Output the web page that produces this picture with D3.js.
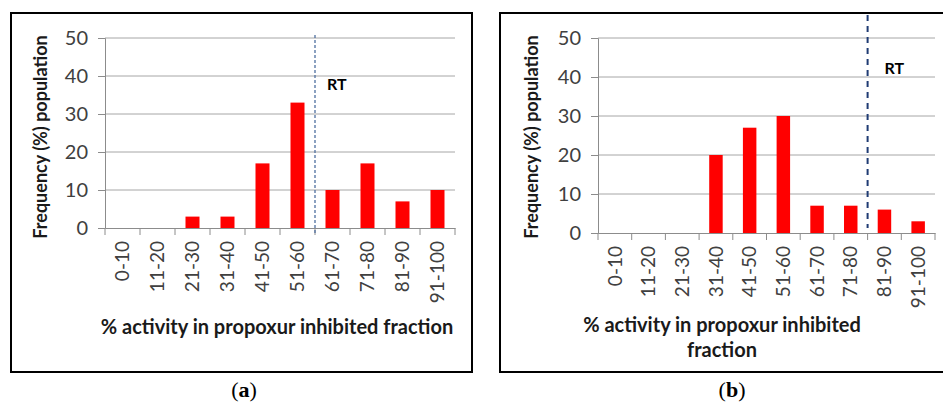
<!DOCTYPE html>
<html>
<head>
<meta charset="utf-8">
<script src="https://cdn.jsdelivr.net/npm/d3@7"></script>
<style>
  body { margin: 0; background: #fff; }
  svg { display: block; }
  .tick text { font-family: Lato, "Open Sans", sans-serif; fill: #404040; }
</style>
</head>
<body>
<svg id="chart" width="943" height="403"></svg>
<script>
// categories (% activity bins) and frequencies
const categories = ["0-10", "11-20", "21-30", "31-40", "41-50", "51-60", "61-70", "71-80", "81-90", "91-100"];
const freqA = [0, 0, 3, 3, 17, 33, 10, 17, 7, 10];
const freqB = [0, 0, 0, 20, 27, 30, 7, 7, 6, 3];
const yTicks = [0, 10, 20, 30, 40, 50];
// RT line sits on the left edge of this bin
const rtA = "61-70";
const rtB = "81-90";

const svg = d3.select("#chart");

function drawPanel(p) {
    // frame
    svg.append("rect")
        .attr("x", p.frame[0]).attr("y", p.frame[1])
        .attr("width", p.frame[2]).attr("height", p.frame[3])
        .attr("fill", "none").attr("stroke", "#000").attr("stroke-width", 2);

    let x = d3.scaleBand().domain(categories).range([p.left, p.right]).paddingInner(0.6).paddingOuter(0.3);
    let xb = d3.scaleBand().domain(categories).range([p.left, p.right]);
    let y = d3.scaleLinear().domain([0, 50]).range([p.bottom, p.top]);

    let g = svg.append("g");

    // gridlines
    g.selectAll("line.grid")
        .data(yTicks.filter(d => d > 0))
        .join("line")
        .attr("class", "grid")
        .attr("x1", p.left).attr("x2", p.right)
        .attr("y1", d => y(d)).attr("y2", d => y(d))
        .attr("stroke", "#a6a6a6").attr("stroke-width", 1);

    // y axis
    let yAxis = g.append("g")
        .attr("transform", `translate(${p.left},0)`)
        .call(d3.axisLeft(y).tickValues(yTicks).tickSize(7).tickPadding(10));
    yAxis.select(".domain").attr("stroke", "#8c8c8c");
    yAxis.selectAll(".tick line").attr("stroke", "#8c8c8c");
    yAxis.selectAll(".tick text").attr("font-size", 20);

    // bars
    g.selectAll("rect.bar")
        .data(p.values)
        .join("rect")
        .attr("class", "bar")
        .attr("x", (d, i) => x(categories[i]))
        .attr("width", x.bandwidth())
        .attr("y", d => y(d))
        .attr("height", d => y(0) - y(d))
        .attr("fill", "#ff0000");

    // x axis (ticks between categories)
    let xAxis = g.append("g")
        .attr("transform", `translate(0,${p.bottom})`)
        .call(d3.axisBottom(xb).tickSize(0).tickPadding(0));
    xAxis.select(".domain").attr("stroke", "#8c8c8c").attr("stroke-width", 1.2);
    xAxis.selectAll(".tick text")
        .attr("font-size", 19)
        .attr("transform", "rotate(-90)")
        .attr("text-anchor", "end")
        .attr("dy", "0.35em")
        .attr("x", -13)
        .attr("y", 0);
    g.selectAll("line.xtick")
        .data(categories.concat(["end"]))
        .join("line")
        .attr("class", "xtick")
        .attr("x1", (d, i) => i < categories.length ? xb(d) : p.right)
        .attr("x2", (d, i) => i < categories.length ? xb(d) : p.right)
        .attr("y1", p.bottom).attr("y2", p.bottom + 7)
        .attr("stroke", "#8c8c8c");

    // RT line
    g.append("line")
        .attr("x1", xb(p.rt)).attr("x2", xb(p.rt))
        .attr("y1", p.rtTop).attr("y2", p.rtBottom)
        .attr("stroke", p.rtColor).attr("stroke-width", p.rtWidth)
        .attr("stroke-dasharray", p.rtDash);
    g.append("text")
        .attr("x", xb(p.rt) + p.rtDx).attr("y", p.rtY)
        .attr("font-family", "Lato, sans-serif").attr("font-weight", "bold")
        .attr("font-size", 16).attr("fill", "#000")
        .text("RT");

    // axis titles
    g.append("text")
        .attr("transform", `translate(${p.yTitleX},${p.yTitleY}) rotate(-90)`)
        .attr("text-anchor", "middle")
        .attr("font-family", "Lato, sans-serif").attr("font-weight", "bold")
        .attr("font-size", 18).attr("fill", "#1a1a1a")
        .text("Frequency (%) population");

    let xt = g.append("text")
        .attr("text-anchor", "middle")
        .attr("font-family", "Lato, sans-serif").attr("font-weight", "bold")
        .attr("font-size", 20).attr("fill", "#1a1a1a");
    p.xTitle.forEach((line, i) => {
        xt.append("tspan")
            .attr("x", p.xTitleX)
            .attr("y", p.xTitleY + i * 25)
            .text(line);
    });

    // panel label
    let lab = svg.append("text")
        .attr("x", p.labelX).attr("y", 397)
        .attr("text-anchor", "middle")
        .attr("font-family", "'Liberation Serif', 'DejaVu Serif', serif")
        .attr("font-size", 22).attr("fill", "#000");
    lab.append("tspan").text("(");
    lab.append("tspan").attr("font-weight", "bold").text(p.label);
    lab.append("tspan").text(")");
}

drawPanel({
    frame: [11, 13, 461, 359],
    left: 105, right: 455, top: 38, bottom: 228,
    values: freqA,
    rt: rtA, rtTop: 35, rtBottom: 233, rtColor: "#4f6f9f", rtWidth: 1.3, rtDash: "3,2",
    rtDx: 12, rtY: 90,
    yTitleX: 47, yTitleY: 137,
    xTitle: ["% activity in propoxur inhibited fraction"], xTitleX: 277, xTitleY: 334,
    label: "a", labelX: 244
});

drawPanel({
    frame: [500, 13, 450, 359],
    left: 598, right: 935, top: 38, bottom: 233,
    values: freqB,
    rt: rtB, rtTop: 15, rtBottom: 228, rtColor: "#1f3b73", rtWidth: 2, rtDash: "6,5",
    rtDx: 17, rtY: 74,
    yTitleX: 538, yTitleY: 137,
    xTitle: ["% activity in propoxur inhibited", "fraction"], xTitleX: 722, xTitleY: 332,
    label: "b", labelX: 732
});
</script>
</body>
</html>
